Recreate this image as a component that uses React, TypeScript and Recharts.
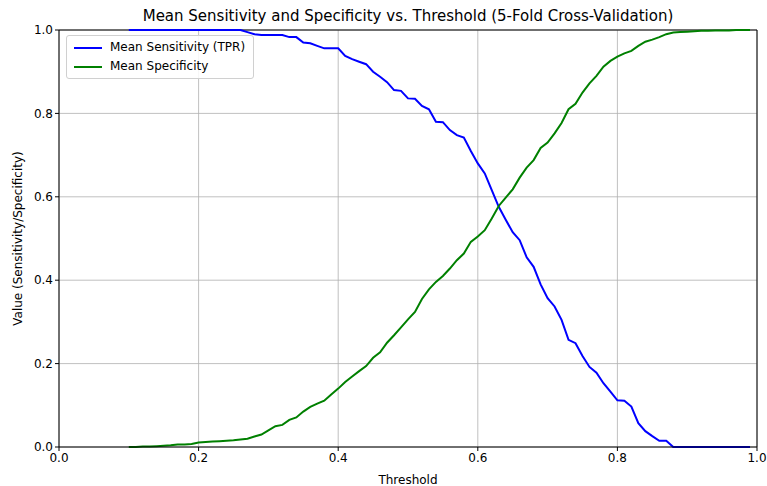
import React from 'react';
import {
  LineChart,
  Line,
  XAxis,
  YAxis,
  CartesianGrid,
  ReferenceLine,
} from 'recharts';

// thresholds 0.10 .. 0.99
const thresholds = [
  0.10, 0.11, 0.12, 0.13, 0.14, 0.15, 0.16, 0.17, 0.18, 0.19,
  0.20, 0.21, 0.22, 0.23, 0.24, 0.25, 0.26, 0.27, 0.28, 0.29,
  0.30, 0.31, 0.32, 0.33, 0.34, 0.35, 0.36, 0.37, 0.38, 0.39,
  0.40, 0.41, 0.42, 0.43, 0.44, 0.45, 0.46, 0.47, 0.48, 0.49,
  0.50, 0.51, 0.52, 0.53, 0.54, 0.55, 0.56, 0.57, 0.58, 0.59,
  0.60, 0.61, 0.62, 0.63, 0.64, 0.65, 0.66, 0.67, 0.68, 0.69,
  0.70, 0.71, 0.72, 0.73, 0.74, 0.75, 0.76, 0.77, 0.78, 0.79,
  0.80, 0.81, 0.82, 0.83, 0.84, 0.85, 0.86, 0.87, 0.88, 0.89,
  0.90, 0.91, 0.92, 0.93, 0.94, 0.95, 0.96, 0.97, 0.98, 0.99,
];

const sensitivity = [
  1, 1, 1, 1, 1, 1, 1, 1, 1, 1,
  1, 1, 1, 1, 1, 1, 1, 0.995, 0.99, 0.988,
  0.988, 0.988, 0.988, 0.983, 0.983, 0.97, 0.968, 0.962, 0.956, 0.956,
  0.956, 0.938, 0.93, 0.924, 0.918, 0.9, 0.888, 0.875, 0.856, 0.854,
  0.836, 0.835, 0.818, 0.81, 0.78, 0.779, 0.76, 0.748, 0.742, 0.71,
  0.68, 0.656, 0.616, 0.576, 0.545, 0.515, 0.496, 0.455, 0.432, 0.39,
  0.357, 0.337, 0.305, 0.257, 0.249, 0.218, 0.192, 0.178, 0.153, 0.133,
  0.112, 0.111, 0.097, 0.057, 0.038, 0.026, 0.015, 0.015, 0, 0,
  0, 0, 0, 0, 0, 0, 0, 0, 0, 0,
];

const specificity = [
  0, 0, 0.001, 0.001, 0.002, 0.003, 0.004, 0.006, 0.006, 0.007,
  0.011, 0.012, 0.013, 0.014, 0.015, 0.016, 0.018, 0.02, 0.025, 0.03,
  0.04, 0.05, 0.053, 0.065, 0.071, 0.085, 0.096, 0.104, 0.111, 0.126,
  0.14, 0.156, 0.169, 0.182, 0.194, 0.214, 0.227, 0.25, 0.268, 0.287,
  0.306, 0.324, 0.355, 0.378, 0.396, 0.41, 0.428, 0.448, 0.464, 0.492,
  0.505, 0.52, 0.548, 0.578, 0.598, 0.618, 0.646, 0.67, 0.688, 0.717,
  0.73, 0.752, 0.777, 0.81, 0.823, 0.85, 0.872, 0.89, 0.912, 0.926,
  0.936, 0.944, 0.95, 0.962, 0.972, 0.977, 0.983, 0.99, 0.994, 0.995,
  0.996, 0.997, 0.998, 0.998, 0.999, 0.999, 0.999, 1, 1, 1,
];

const xTicks = [0, 0.2, 0.4, 0.6, 0.8, 1.0];
const yTicks = [0, 0.2, 0.4, 0.6, 0.8, 1.0];

const FONT = '"DejaVu Sans", sans-serif';

const data = thresholds.map((t, i) => ({
  threshold: t,
  sens: sensitivity[i],
  spec: specificity[i],
}));

const legendItems = [
  { label: 'Mean Sensitivity (TPR)', color: '#0000ff' },
  { label: 'Mean Specificity', color: '#008000' },
];

export default function App() {
  return (
    <div style={{ position: 'absolute', left: 0, top: 0, width: 767, height: 486, background: '#fff' }}>
      <LineChart
        width={767}
        height={486}
        data={data}
        margin={{ top: 30, right: 10, left: 0, bottom: 0 }}
        style={{ fontFamily: FONT }}
      >
        <CartesianGrid stroke="#b0b0b0" strokeWidth={0.8} />
        <XAxis
          dataKey="threshold"
          type="number"
          domain={[0, 1]}
          ticks={xTicks}
          tickFormatter={(v: number) => v.toFixed(1)}
          height={39}
          tickSize={4}
          axisLine={{ stroke: '#000' }}
          tickLine={{ stroke: '#000' }}
          tick={{ fill: '#000', fontSize: 12 }}
          label={{ value: 'Threshold', position: 'insideBottom', offset: 2, fill: '#000', fontSize: 12 }}
        />
        <YAxis
          type="number"
          domain={[0, 1]}
          ticks={yTicks}
          tickFormatter={(v: number) => v.toFixed(1)}
          width={59}
          tickSize={4}
          axisLine={{ stroke: '#000' }}
          tickLine={{ stroke: '#000' }}
          tick={{ fill: '#000', fontSize: 12 }}
          label={{
            value: 'Value (Sensitivity/Specificity)',
            angle: -90,
            position: 'insideLeft',
            offset: 18,
            style: { textAnchor: 'middle' },
            fill: '#000',
            fontSize: 12,
          }}
        />
        <ReferenceLine y={1} stroke="#000" />
        <ReferenceLine x={1} stroke="#000" />
        <Line
          type="linear"
          dataKey="sens"
          stroke="#0000ff"
          strokeWidth={2}
          dot={false}
          isAnimationActive={false}
        />
        <Line
          type="linear"
          dataKey="spec"
          stroke="#008000"
          strokeWidth={2}
          dot={false}
          isAnimationActive={false}
        />
      </LineChart>
      <div
        style={{
          position: 'absolute',
          top: 7,
          left: 59,
          width: 698,
          textAlign: 'center',
          fontFamily: FONT,
          fontSize: 15,
          color: '#000',
        }}
      >
        Mean Sensitivity and Specificity vs. Threshold (5-Fold Cross-Validation)
      </div>
      <div
        style={{
          position: 'absolute',
          left: 66,
          top: 35,
          border: '1px solid #d0d0d0',
          borderRadius: 3,
          background: 'rgba(255,255,255,0.85)',
          padding: '2px 8px 2px 7px',
          fontFamily: FONT,
          fontSize: 12,
          color: '#000',
          lineHeight: '19px',
        }}
      >
        {legendItems.map((item) => (
          <div key={item.label} style={{ display: 'flex', alignItems: 'center' }}>
            <span
              style={{
                display: 'inline-block',
                width: 28,
                height: 2,
                background: item.color,
                marginRight: 8,
              }}
            />
            {item.label}
          </div>
        ))}
      </div>
    </div>
  );
}
